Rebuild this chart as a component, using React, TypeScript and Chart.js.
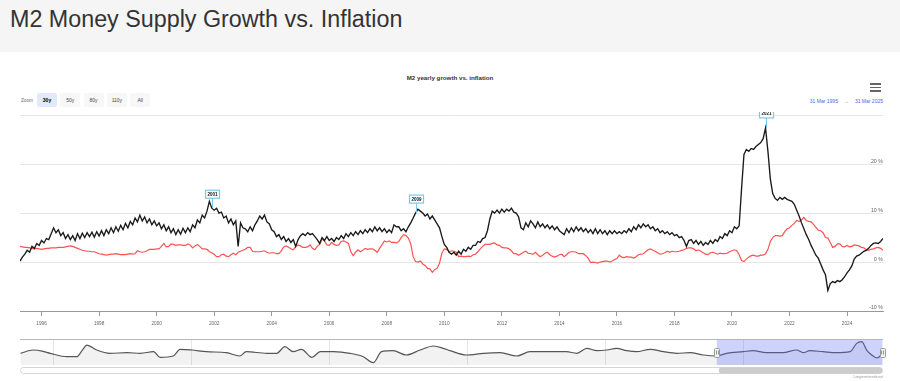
import React, { useEffect, useRef } from 'react';
import { Chart, registerables } from 'chart.js';

Chart.register(...registerables);

const FONT = '"Liberation Sans", Arial, Helvetica, sans-serif';
Chart.defaults.font.family = FONT;

// Monthly series, first value = 31 Mar 1995
const START_YEAR = 1995.25;

const m2Growth = [
  // 1995 (Mar-Dec)
  0.2, 1.0, 1.6, 2.4, 2.0, 3.2, 2.8, 3.8, 3.4, 4.4,
  // 1996
  3.9, 4.8, 4.6, 5.8, 7.0, 6.0, 6.6, 5.4, 6.0, 4.8, 5.6, 4.6,
  // 1997
  5.4, 4.4, 5.8, 4.8, 5.9, 5.0, 6.0, 5.2, 6.1, 5.1, 6.2, 5.3,
  // 1998
  6.4, 5.4, 6.6, 5.8, 7.0, 6.0, 7.2, 6.3, 7.5, 6.6, 7.9, 7.0,
  // 1999
  8.3, 7.6, 9.0, 8.2, 9.6, 8.4, 9.2, 8.0, 8.8, 7.6, 8.4, 7.4,
  // 2000
  8.0, 6.8, 7.6, 6.4, 7.2, 6.0, 6.8, 5.6, 6.6, 5.7, 6.9, 6.0,
  // 2001
  7.0, 6.2, 7.6, 7.0, 8.6, 8.0, 9.6, 9.0, 10.4, 12.4, 11.0, 10.6,
  // 2002
  11.0, 10.0, 10.2, 9.0, 9.4, 8.0, 8.8, 7.6, 8.4, 3.2, 8.0, 7.0,
  // 2003
  6.8, 6.2, 7.2, 6.4, 7.6, 8.4, 9.4, 8.8, 9.6, 8.2, 7.8, 6.6,
  // 2004
  6.2, 5.2, 5.6, 4.6, 5.2, 4.2, 4.8, 4.0, 4.6, 3.2, 4.6, 5.4,
  // 2005
  5.8, 5.4, 6.0, 5.6, 5.8, 5.2, 4.6, 3.8, 5.0, 4.4, 5.2, 4.4,
  // 2006
  4.8, 4.2, 5.0, 4.6, 5.4, 4.8, 5.8, 5.2, 6.0, 5.4, 6.2, 5.6,
  // 2007
  6.4, 5.8, 6.6, 6.0, 6.8, 6.2, 7.2, 6.4, 7.0, 6.2, 6.8, 6.0,
  // 2008
  6.6, 6.0, 7.6, 7.2, 7.2, 6.4, 6.8, 6.2, 7.2, 8.0, 9.0, 10.0,
  // 2009
  10.8, 10.4, 10.0, 9.4, 9.8, 8.8, 9.4, 8.6, 7.8, 7.0, 5.2, 3.6,
  // 2010
  3.0, 2.0, 1.6, 2.0, 1.4, 2.2, 1.6, 2.6, 2.2, 3.0, 2.6, 3.4,
  // 2011
  3.4, 4.2, 4.0, 4.8, 5.0, 6.4, 8.8, 10.4, 10.0, 10.6, 10.0, 10.8,
  // 2012
  10.2, 10.8, 10.4, 11.0, 10.2, 10.0, 9.2, 7.0, 6.6, 8.0, 7.2, 8.4,
  // 2013
  7.8, 7.0, 8.2, 7.2, 7.8, 7.0, 7.6, 6.8, 7.4, 6.6, 7.2, 6.4,
  // 2014
  6.0, 5.6, 6.8, 6.0, 7.0, 6.2, 7.2, 6.4, 7.0, 6.2, 6.8, 6.0,
  // 2015
  6.6, 5.8, 6.8, 5.8, 6.6, 5.8, 6.4, 5.6, 6.4, 5.8, 6.4, 5.8,
  // 2016
  6.2, 5.8, 6.4, 6.0, 6.8, 6.2, 7.2, 6.6, 7.6, 7.0, 7.8, 7.2,
  // 2017
  7.6, 6.8, 7.2, 6.4, 6.8, 6.0, 6.4, 5.8, 6.2, 5.6, 6.0, 5.4,
  // 2018
  5.6, 5.0, 5.2, 4.4, 3.2, 4.4, 4.6, 3.8, 4.4, 3.6, 4.2, 3.4,
  // 2019
  4.0, 3.6, 4.4, 3.8, 4.6, 4.2, 5.2, 4.8, 5.8, 5.4, 6.4, 6.0,
  // 2020
  7.2, 6.8, 7.4, 15.0, 22.0, 23.0, 22.6, 23.2, 23.0, 23.6, 24.0, 24.4,
  // 2021
  25.2, 27.4, 22.6, 17.0, 14.0, 13.0, 12.6, 13.2, 12.8, 13.2, 12.8, 12.6,
  // 2022
  12.4, 11.8, 10.6, 9.4, 8.0, 6.8, 5.6, 4.6, 3.4, 2.4, 1.4, 0.8,
  // 2023
  -0.4, -1.6, -2.6, -5.8, -4.4, -4.0, -4.2, -3.8, -4.0, -3.6, -3.0, -2.2,
  // 2024
  -1.6, -0.8, 0.6, 1.2, 1.4, 1.8, 2.2, 2.4, 2.8, 3.4, 3.8, 3.9,
  // 2025 (Jan-Mar)
  3.8, 4.2, 4.8,
];

const inflation = [
  // 1995 (Mar-Dec)
  3.2, 3.1, 3.0, 3.0, 2.9, 2.8, 2.7, 2.8, 2.7, 2.6,
  // 1996
  2.7, 2.8, 2.8, 2.9, 2.9, 2.9, 3.0, 3.0, 3.0, 3.1, 3.2, 3.3,
  // 1997
  3.2, 3.0, 2.8, 2.6, 2.4, 2.3, 2.2, 2.2, 2.1, 2.1, 1.9, 1.7,
  // 1998
  1.6, 1.5, 1.4, 1.5, 1.6, 1.6, 1.7, 1.6, 1.5, 1.5, 1.5, 1.6,
  // 1999
  1.7, 1.6, 1.7, 2.3, 2.1, 2.0, 2.1, 2.3, 2.6, 2.6, 2.6, 2.7,
  // 2000
  2.7, 3.2, 3.8, 3.1, 3.2, 3.7, 3.6, 3.4, 3.5, 3.5, 3.4, 3.4,
  // 2001
  3.7, 3.5, 2.9, 3.3, 3.6, 3.2, 2.7, 2.7, 2.6, 2.1, 1.9, 1.6,
  // 2002
  1.1, 1.1, 1.5, 1.6, 1.2, 1.1, 1.5, 1.8, 1.5, 2.0, 2.2, 2.4,
  // 2003
  2.6, 3.0, 3.0, 2.2, 2.1, 2.1, 2.1, 2.2, 2.3, 2.0, 1.8, 1.9,
  // 2004
  1.9, 1.7, 1.7, 2.3, 3.1, 3.3, 3.0, 2.7, 2.5, 3.2, 3.5, 3.3,
  // 2005
  3.0, 3.0, 3.1, 3.5, 2.8, 2.5, 3.2, 3.6, 4.7, 4.3, 3.5, 3.4,
  // 2006
  4.0, 3.6, 3.4, 3.5, 4.2, 4.3, 4.1, 3.8, 2.1, 1.3, 2.0, 2.5,
  // 2007
  2.1, 2.4, 2.8, 2.6, 2.7, 2.7, 2.4, 2.0, 2.8, 3.5, 4.3, 4.1,
  // 2008
  4.3, 4.0, 4.0, 3.9, 4.2, 5.0, 5.6, 5.4, 4.9, 3.7, 1.1, 0.1,
  // 2009
  0.0, 0.2, -0.4, -0.7, -1.3, -1.4, -2.1, -1.5, -1.3, -0.2, 1.8, 2.7,
  // 2010
  2.6, 2.1, 2.3, 2.2, 2.0, 1.1, 1.2, 1.1, 1.1, 1.2, 1.1, 1.5,
  // 2011
  1.6, 2.1, 2.7, 3.2, 3.6, 3.6, 3.6, 3.8, 3.9, 3.5, 3.4, 3.0,
  // 2012
  2.9, 2.9, 2.7, 2.3, 1.7, 1.7, 1.4, 1.7, 2.0, 2.2, 1.8, 1.7,
  // 2013
  1.6, 2.0, 1.5, 1.1, 1.4, 1.8, 2.0, 1.5, 1.2, 1.0, 1.2, 1.5,
  // 2014
  1.6, 1.1, 1.5, 2.0, 2.1, 2.1, 2.0, 1.7, 1.7, 1.7, 1.3, 0.8,
  // 2015
  -0.1, 0.0, -0.1, -0.2, 0.0, 0.1, 0.2, 0.2, 0.0, 0.2, 0.5, 0.7,
  // 2016
  1.4, 1.0, 0.9, 1.1, 1.0, 1.0, 0.8, 1.1, 1.5, 1.6, 1.7, 2.1,
  // 2017
  2.5, 2.7, 2.4, 2.2, 1.9, 1.6, 1.7, 1.9, 2.2, 2.0, 2.2, 2.1,
  // 2018
  2.1, 2.2, 2.4, 2.5, 2.8, 2.9, 2.9, 2.7, 2.3, 2.5, 2.2, 1.9,
  // 2019
  1.6, 1.5, 1.9, 2.0, 1.8, 1.6, 1.8, 1.7, 1.7, 1.8, 2.1, 2.3,
  // 2020
  2.5, 2.3, 1.5, 0.3, 0.1, 0.6, 1.0, 1.3, 1.4, 1.2, 1.2, 1.4,
  // 2021
  1.4, 1.7, 2.6, 4.2, 5.0, 5.4, 5.4, 5.3, 5.4, 6.2, 6.8, 7.0,
  // 2022
  7.5, 7.9, 8.5, 8.3, 8.6, 9.1, 8.5, 8.3, 8.2, 7.7, 7.1, 6.5,
  // 2023
  6.4, 6.0, 5.0, 4.9, 4.0, 3.0, 3.2, 3.7, 3.7, 3.2, 3.1, 3.4,
  // 2024
  3.1, 3.2, 3.5, 3.4, 3.3, 3.0, 2.9, 2.5, 2.4, 2.6, 2.7, 2.9,
  // 2025 (Jan-Mar)
  3.0, 2.8, 2.4,
];

const xTickYears = [1996, 1998, 2000, 2002, 2004, 2006, 2008, 2010, 2012, 2014, 2016, 2018, 2020, 2022, 2024];
const yMin = -10;
const yMax = 30;
const yStep = 10;

const flagYears = [2001.92, 2009.0, 2021.17];
const flagLabels = ['2001', '2009', '2021'];

// Navigator (full history, smoothed)
const navYears = [
  1869.1, 1871.4, 1873.0, 1874.5, 1877.5, 1879.3, 1880.3, 1881.1, 1882.9, 1885.3,
  1888.4, 1890.8, 1893.2, 1894.4, 1896.8, 1898.0, 1900.1, 1902.8, 1906.4, 1908.8,
  1910.0, 1913.7, 1915.5, 1917.0, 1918.5, 1920.0, 1921.9, 1923.4, 1925.8, 1928.8,
  1931.2, 1933.0, 1934.5, 1936.6, 1939.0, 1941.5, 1943.9, 1945.7, 1946.9, 1949.9,
  1953.0, 1956.0, 1959.0, 1961.4, 1965.0, 1968.0, 1969.9, 1971.7, 1973.5, 1975.3,
  1977.1, 1978.9, 1980.7, 1983.2, 1985.6, 1988.0, 1990.4, 1992.8, 1995.2, 1997.0,
  2000.0, 2001.8, 2004.2, 2007.2, 2009.7, 2010.9, 2012.1, 2014.5, 2016.9, 2019.4,
  2020.6, 2021.5, 2022.4, 2023.3, 2024.3, 2025.3,
];
const navValues = [
  3.4, 10.1, 8.0, 3.4, -3.4, -3.4, 10.0, 20.2, 10.1, 3.4,
  4.7, 3.4, 6.7, -4.7, -2.0, 11.5, 10.1, 6.7, 4.7, -2.0,
  6.7, 3.4, 3.4, 16.9, 6.7, 11.5, -4.7, 6.7, 6.7, 3.4,
  -3.4, -15.5, 6.7, 8.8, 0.0, 10.1, 18.2, 13.5, 8.8, 0.0,
  3.4, 4.7, -2.0, 6.7, 6.7, 6.7, 3.4, 13.5, 8.8, 10.1,
  13.5, 8.8, 6.7, 11.5, 6.7, 3.4, 4.7, 0.0, -2.0, 3.4,
  6.7, 8.8, 4.7, 4.7, 10.1, 4.7, 8.8, 6.7, 4.7, 6.7,
  23.6, 26.9, 10.1, 0.0, -6.0, 3.4,
];
const navTickYears = [1875, 1900, 1925, 1950, 1975, 2000];
const navMin = 1869.0;
const navMax = 2025.36;
const selectedFrom = 1995.25;
const selectedTo = 2025.25;

const zoomButtons = ['30y', '50y', '80y', '110y', 'All'];
const selectedButton = '30y';

const flagPlugin = {
  id: 'flags',
  afterDatasetsDraw(chart: any) {
    const { ctx } = chart;
    const xs = chart.scales.x;
    const ys = chart.scales.y;
    flagYears.forEach((yr, k) => {
      const idx = Math.round((yr - START_YEAR) * 12);
      const v = m2Growth[idx];
      const px = Math.round(xs.getPixelForValue(START_YEAR + idx / 12)) + 0.5;
      const py = ys.getPixelForValue(v);
      const w = 14;
      const h = 8;
      const bottom = py - 10;
      ctx.save();
      ctx.strokeStyle = '#7cc6ef';
      ctx.lineWidth = 1;
      ctx.beginPath();
      ctx.moveTo(px, py);
      ctx.lineTo(px, bottom);
      ctx.stroke();
      ctx.fillStyle = '#ffffff';
      ctx.lineWidth = 1.2;
      ctx.fillRect(px - w / 2, bottom - h, w, h);
      ctx.strokeRect(px - w / 2, bottom - h, w, h);
      ctx.fillStyle = '#111';
      ctx.font = `bold 4.5px ${FONT}`;
      ctx.textAlign = 'center';
      ctx.textBaseline = 'middle';
      ctx.fillText(flagLabels[k], px, bottom - h / 2 + 0.3);
      ctx.restore();
    });
  },
};

const navigatorPlugin = {
  id: 'navDecor',
  afterDraw(chart: any) {
    const { ctx, chartArea } = chart;
    const xs = chart.scales.x;
    const left = chartArea.left;
    const right = chartArea.right;
    const top = chartArea.top;
    const bottom = chartArea.bottom;
    const mx1 = xs.getPixelForValue(selectedFrom);
    const mx2 = Math.min(xs.getPixelForValue(selectedTo), right);
    ctx.save();
    // mask
    ctx.fillStyle = 'rgba(90,110,250,0.3)';
    ctx.fillRect(mx1, top, mx2 - mx1, bottom - top);
    // outline
    ctx.strokeStyle = '#b8b8b8';
    ctx.lineWidth = 1;
    ctx.beginPath();
    ctx.moveTo(left, top + 0.5);
    ctx.lineTo(right, top + 0.5);
    ctx.stroke();
    // handles
    [mx1, mx2].forEach((hx) => {
      const hw = 5;
      const hh = 9;
      const hy = (top + bottom) / 2 - hh / 2;
      ctx.fillStyle = '#f2f2f2';
      ctx.strokeStyle = '#999';
      ctx.beginPath();
      ctx.roundRect(Math.round(hx - hw / 2) + 0.5, Math.round(hy) + 0.5, hw, hh, 1);
      ctx.fill();
      ctx.stroke();
      ctx.strokeStyle = '#999';
      ctx.beginPath();
      ctx.moveTo(Math.round(hx) - 0.5, hy + 3);
      ctx.lineTo(Math.round(hx) - 0.5, hy + hh - 2);
      ctx.moveTo(Math.round(hx) + 1.5, hy + 3);
      ctx.lineTo(Math.round(hx) + 1.5, hy + hh - 2);
      ctx.stroke();
    });
    // scrollbar
    const sy = bottom + 2.5;
    const sh = 6;
    ctx.fillStyle = '#ffffff';
    ctx.strokeStyle = '#d4d4d4';
    ctx.beginPath();
    ctx.roundRect(left + 0.5, sy, right - left - 1, sh, 3);
    ctx.fill();
    ctx.stroke();
    ctx.fillStyle = '#cccccc';
    ctx.beginPath();
    ctx.roundRect(mx1 + 2, sy, mx2 - mx1 - 2, sh, 3);
    ctx.fill();
    ctx.restore();
  },
};

export default function App() {
  const mainRef = useRef<HTMLCanvasElement | null>(null);
  const navRef = useRef<HTMLCanvasElement | null>(null);

  useEffect(() => {
    document.body.style.margin = '0';
    const main = new Chart(mainRef.current as HTMLCanvasElement, {
      type: 'line',
      data: {
        datasets: [
          {
            label: 'M2 yearly growth',
            data: m2Growth.map((v, i) => ({ x: START_YEAR + i / 12, y: v })),
            borderColor: '#1a1a1a',
            borderWidth: 1.35,
            pointRadius: 0,
            tension: 0,
          },
          {
            label: 'Inflation',
            data: inflation.map((v, i) => ({ x: START_YEAR + i / 12, y: v })),
            borderColor: '#ff5252',
            borderWidth: 1.2,
            pointRadius: 0,
            tension: 0,
          },
        ],
      },
      options: {
        animation: false,
        responsive: false,
        maintainAspectRatio: false,
        layout: { padding: { left: 20, right: 17, top: 3, bottom: 0 } },
        plugins: { legend: { display: false }, tooltip: { enabled: false }, title: { display: false } },
        scales: {
          x: {
            type: 'linear',
            min: START_YEAR,
            max: START_YEAR + (m2Growth.length - 1) / 12,
            afterBuildTicks: (s: any) => {
              s.ticks = xTickYears.map((v) => ({ value: v }));
            },
            afterFit: (s: any) => {
              s.height = 20;
            },
            ticks: {
              autoSkip: false,
              maxRotation: 0,
              padding: 5,
              color: '#666',
              font: { size: 4.7 },
              callback: (v: any) => String(v),
            },
            grid: { drawOnChartArea: false, drawTicks: true, tickLength: 5, color: '#999' },
            border: { display: true, color: '#999' },
          },
          y: {
            position: 'right',
            min: yMin,
            max: yMax,
            afterFit: (s: any) => {
              s.width = 0;
            },
            ticks: {
              stepSize: yStep,
              mirror: true,
              padding: 0,
              labelOffset: -3,
              color: '#666',
              font: { size: 5.3 },
              callback: (v: any) => (v === yMax ? '' : `${v} %`),
            },
            grid: { color: '#e6e6e6', drawTicks: false },
            border: { display: false },
          },
        },
      },
      plugins: [flagPlugin],
    } as any);

    const nav = new Chart(navRef.current as HTMLCanvasElement, {
      type: 'line',
      data: {
        datasets: [
          {
            label: 'Navigator',
            data: navYears.map((x, i) => ({ x, y: navValues[i] })),
            borderColor: '#555',
            borderWidth: 1.2,
            pointRadius: 0,
            fill: 'start',
            backgroundColor: 'rgba(0,0,0,0.05)',
            cubicInterpolationMode: 'monotone',
          },
        ],
      },
      options: {
        animation: false,
        responsive: false,
        maintainAspectRatio: false,
        layout: { padding: { left: 20, right: 17, top: 3, bottom: 16 } },
        plugins: { legend: { display: false }, tooltip: { enabled: false } },
        scales: {
          x: {
            type: 'linear',
            min: navMin,
            max: navMax,
            afterBuildTicks: (s: any) => {
              s.ticks = navTickYears.map((v) => ({ value: v }));
            },
            afterFit: (s: any) => {
              s.height = 0;
            },
            ticks: {
              autoSkip: false,
              maxRotation: 0,
              align: 'start',
              padding: -6,
              labelOffset: 3,
              color: '#999',
              font: { size: 4 },
              callback: (v: any) => String(v),
            },
            grid: { color: '#e6e6e6', drawTicks: false },
            border: { display: false },
          },
          y: { display: false, min: -20.2, max: 32.4 },
        },
      },
      plugins: [navigatorPlugin],
    } as any);

    return () => {
      main.destroy();
      nav.destroy();
    };
  }, []);

  const abs = (s: React.CSSProperties): React.CSSProperties => ({ position: 'absolute', ...s });

  return (
    <div style={abs({ left: 0, top: 0, width: 900, height: 381, background: '#fff', overflow: 'hidden', fontFamily: FONT })}>
      <div style={abs({ left: 0, top: 0, width: 900, height: 52, background: '#f5f5f5' })} />
      <div style={abs({ left: 10, top: 1, lineHeight: '36px', fontSize: 23.3, color: '#333', whiteSpace: 'nowrap' })}>
        M2 Money Supply Growth vs. Inflation
      </div>
      <div style={abs({ left: 0, top: 74, width: 900, textAlign: 'center', fontSize: 6.2, fontWeight: 'bold', color: '#333', lineHeight: '8px' })}>
        M2 yearly growth vs. inflation
      </div>
      {/* hamburger */}
      {[83, 86.5, 90].map((t) => (
        <div key={t} style={abs({ left: 870, top: t, width: 11, height: 1.6, background: '#666' })} />
      ))}
      {/* zoom buttons */}
      <div style={abs({ left: 21, top: 97, fontSize: 4.7, color: '#666', lineHeight: '8px' })}>Zoom</div>
      {zoomButtons.map((b, i) => (
        <div
          key={b}
          style={abs({
            left: 37 + i * 23.3,
            top: 93,
            width: 20,
            height: 14,
            borderRadius: 2,
            background: b === selectedButton ? '#e4e8fb' : '#f7f7f7',
            color: b === selectedButton ? '#000' : '#444',
            fontWeight: b === selectedButton ? 'bold' : 'normal',
            fontSize: 5,
            lineHeight: '14px',
            textAlign: 'center',
          })}
        >
          {b}
        </div>
      ))}
      {/* date range */}
      <div style={abs({ left: 700, width: 183, top: 97, textAlign: 'right', fontSize: 5, lineHeight: '8px', color: '#4d64f0', whiteSpace: 'nowrap' })}>
        31 Mar 1995<span style={{ color: '#999', margin: '0 6px' }}>→</span>31 Mar 2025
      </div>
      <canvas ref={mainRef} width={900} height={219} style={abs({ left: 0, top: 112, width: 900, height: 219 })} />
      <canvas ref={navRef} width={900} height={45} style={abs({ left: 0, top: 336, width: 900, height: 45 })} />
      <div style={abs({ left: 700, width: 183, top: 375, textAlign: 'right', fontSize: 3.4, lineHeight: '5px', color: '#999' })}>
        Longtermtrends.net
      </div>
    </div>
  );
}
